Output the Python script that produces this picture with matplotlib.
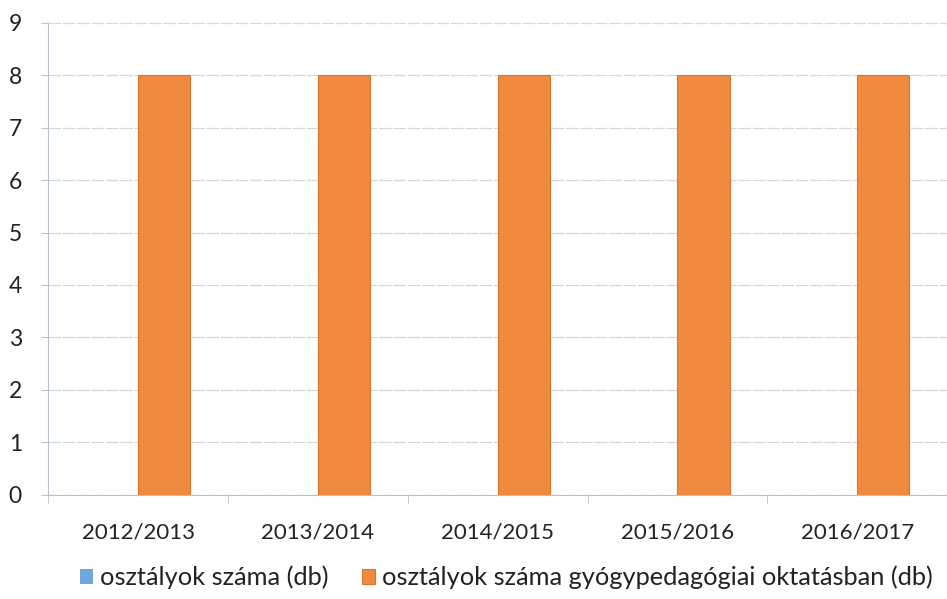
import matplotlib.pyplot as plt
import numpy as np

plt.rcParams["font.family"] = ["Lato", "DejaVu Sans"]

years = ["2012/2013", "2013/2014", "2014/2015", "2015/2016", "2016/2017"]
classes_total = [0, 0, 0, 0, 0]
classes_special = [8, 8, 8, 8, 8]

series_names = ["osztályok száma (db)",
                "osztályok száma gyógypedagógiai oktatásban (db)"]

fig = plt.figure(figsize=(9.47, 5.99), dpi=100)
ax = fig.add_axes([0.051, 0.174, 0.949, 0.788])

x = np.arange(len(years))
w = 0.29
ax.bar(x - w / 2, classes_total, w, color="#6fa8dc", label=series_names[0])
ax.bar(x + w / 2, classes_special, w, color="#f08a3e", edgecolor="#d9762c",
       linewidth=0.8, label=series_names[1])

ax.set_xlim(-0.5, len(years) - 0.5)
ax.set_ylim(0, 9)
ax.set_yticks(range(10))
ax.set_xticks(x)
ax.set_xticklabels(years)
ax.set_xticks(np.arange(len(years) + 1) - 0.5, minor=True)
ax.tick_params(axis="x", which="major", length=0, pad=20, labelsize=16,
               colors="#222222")
ax.tick_params(axis="x", which="minor", length=6, color="#b8c2cc")
ax.tick_params(axis="y", length=5, color="#b8c2cc", pad=14, labelsize=16.5,
               colors="#222222")
ax.yaxis.grid(True, color="#d2d8df", linewidth=0.9, linestyle=(0, (10, 1.5)))
ax.set_axisbelow(True)
for side in ["top", "right"]:
    ax.spines[side].set_visible(False)
ax.spines["left"].set_color("#b8c2cc")
ax.spines["bottom"].set_color("#b8c2cc")

fig.legend(loc="lower center", bbox_to_anchor=(0.535, -0.022), ncol=2,
           frameon=False, fontsize=18.3, handlelength=0.5, handleheight=0.5,
           handletextpad=0.3, columnspacing=1.3, labelcolor="#222222")

fig.savefig("out.png", dpi=100)
